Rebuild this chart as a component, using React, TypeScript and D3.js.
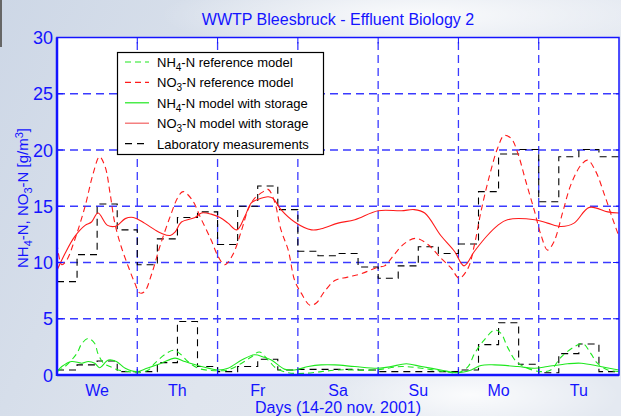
// App
import { useEffect, useRef } from 'react';
import * as d3 from 'd3';

// day labels (centred in each day)
const dayLabels: string[] = ['We', 'Th', 'Fr', 'Sa', 'Su', 'Mo', 'Tu'];
const yTicks: number[] = [0, 5, 10, 15, 20, 25, 30];

// NO3-N model with storage (red solid)
const no3StoreDays: number[] = [0, 0.1, 0.22, 0.35, 0.43, 0.51, 0.63, 0.74, 0.85, 0.95, 1.09, 1.22, 1.3, 1.41, 1.47, 1.55, 1.72, 1.8, 1.92, 2.03, 2.13, 2.24, 2.34, 2.42, 2.5, 2.63, 2.69, 2.79, 2.96, 3.17, 3.29, 3.5, 3.71, 4.0, 4.29, 4.45, 4.58, 4.78, 4.95, 5.07, 5.2, 5.36, 5.49, 5.61, 5.95, 6.11, 6.28, 6.44, 6.63, 6.86, 7.0];
const no3StoreVals: number[] = [9.3, 10.8, 12.3, 13.3, 13.6, 14.4, 13.3, 13.25, 13.9, 14.0, 13.5, 12.9, 12.6, 12.4, 12.7, 13.6, 14.0, 14.4, 14.3, 14.0, 13.5, 12.9, 14.1, 15.3, 15.6, 15.85, 15.7, 14.7, 13.6, 12.9, 13.0, 13.5, 13.8, 14.6, 14.6, 14.7, 14.4, 12.4, 11.0, 9.7, 11.0, 12.4, 13.3, 13.8, 13.8, 13.5, 13.2, 13.5, 14.9, 14.5, 14.4];

// NO3-N reference model (red dashed)
const no3RefDays: number[] = [0, 0.06, 0.12, 0.22, 0.35, 0.45, 0.53, 0.6, 0.66, 0.72, 0.8, 0.89, 0.97, 1.03, 1.09, 1.18, 1.28, 1.41, 1.51, 1.57, 1.68, 1.8, 1.92, 2.01, 2.09, 2.19, 2.3, 2.38, 2.46, 2.57, 2.63, 2.71, 2.79, 2.88, 2.96, 3.04, 3.15, 3.23, 3.33, 3.46, 3.62, 3.79, 4.0, 4.08, 4.2, 4.33, 4.47, 4.62, 4.78, 4.91, 5.01, 5.12, 5.2, 5.28, 5.39, 5.49, 5.57, 5.66, 5.74, 5.84, 5.95, 6.03, 6.11, 6.19, 6.3, 6.4, 6.53, 6.61, 6.71, 6.82, 6.92, 7.0];
const no3RefVals: number[] = [11.7, 9.8, 10.2, 12.0, 15.0, 17.9, 19.4, 18.5, 16.2, 13.5, 11.4, 9.6, 8.15, 7.3, 7.4, 9.0, 11.4, 14.1, 15.85, 16.3, 15.6, 13.8, 12.0, 10.5, 9.8, 10.7, 12.9, 14.7, 15.7, 16.3, 16.5, 15.4, 12.9, 11.1, 8.4, 7.3, 6.2, 6.4, 7.4, 8.4, 8.7, 9.0, 9.6, 9.7, 10.7, 11.7, 12.15, 11.6, 10.4, 9.5, 8.6, 9.5, 11.6, 14.5, 17.8, 20.2, 21.3, 21.0, 19.7, 17.2, 14.5, 12.4, 11.1, 11.85, 14.5, 16.9, 18.7, 19.1, 18.1, 16.0, 13.9, 12.3];

// NH4-N reference model (green dashed)
const nh4RefDays: number[] = [0, 0.1, 0.245, 0.31, 0.39, 0.47, 0.51, 0.58, 0.66, 0.76, 0.89, 1.01, 1.14, 1.22, 1.34, 1.45, 1.53, 1.63, 1.76, 1.92, 2.13, 2.3, 2.42, 2.52, 2.63, 2.73, 2.88, 3.08, 3.29, 3.5, 3.96, 4.29, 4.54, 4.83, 4.99, 5.12, 5.2, 5.32, 5.45, 5.53, 5.61, 5.72, 5.86, 6.03, 6.15, 6.28, 6.44, 6.55, 6.65, 6.73, 6.86, 7.0];
const nh4RefVals: number[] = [0.3, 0.75, 1.9, 2.8, 3.25, 2.8, 1.9, 1.05, 0.75, 0.45, 0.3, 0.2, 0.45, 1.05, 1.8, 2.2, 1.9, 1.2, 0.6, 0.4, 0.45, 1.05, 1.6, 2.05, 1.33, 0.6, 0.2, 0.15, 0.3, 0.45, 0.45, 0.75, 0.6, 0.3, 0.2, 0.75, 1.9, 3.1, 4.0, 3.7, 2.5, 1.2, 0.6, 0.3, 0.45, 1.6, 2.5, 2.8, 1.9, 1.05, 0.45, 0.3];

// NH4-N model with storage (green solid)
const nh4StoreDays: number[] = [0, 0.06, 0.18, 0.31, 0.39, 0.47, 0.53, 0.64, 0.74, 0.85, 0.99, 1.12, 1.3, 1.47, 1.59, 1.8, 2.01, 2.13, 2.3, 2.46, 2.57, 2.67, 2.84, 2.96, 3.13, 3.29, 3.46, 3.71, 4.0, 4.16, 4.35, 4.54, 4.78, 4.99, 5.16, 5.28, 5.45, 5.74, 5.95, 6.11, 6.36, 6.53, 6.77, 7.0];
const nh4StoreVals: number[] = [0.3, 0.75, 1.2, 1.05, 1.2, 1.05, 0.65, 1.33, 1.2, 0.6, 0.3, 0.6, 1.05, 1.5, 1.2, 0.75, 0.45, 0.6, 1.33, 1.8, 1.6, 1.33, 0.5, 0.45, 0.75, 0.9, 0.9, 0.75, 0.6, 0.75, 1.0, 0.75, 0.45, 0.2, 0.45, 0.85, 0.9, 0.75, 0.6, 0.75, 1.0, 1.05, 0.75, 0.45];

// Laboratory measurements, one sample every 6 hours
const labNO3: number[] = [8.3, 10.7, 15.2, 12.9, 9.8, 12.1, 14.0, 14.5, 11.6, 15.0, 16.8, 14.7, 11.0, 10.6, 10.8, 9.6, 8.6, 9.7, 11.4, 10.8, 11.65, 16.3, 19.65, 20.05, 15.4, 19.4, 20.05, 19.4];
const labNH4: number[] = [0.45, 0.9, 1.25, 0.3, 0.3, 1.1, 4.75, 0.75, 0.3, 0.75, 1.4, 0.45, 0.5, 0.5, 0.5, 0.45, 0.3, 0.3, 0.3, 0.3, 0.45, 2.7, 4.65, 0.95, 0.2, 1.9, 2.75, 0.3];

const BLUE = '#1414ff';
const RED = '#ff1a1a';
const GREEN = '#1ee81e';

function Chart() {
	const ref = useRef<SVGSVGElement | null>(null);
	const width = 621;
	const height = 416;
	const margin = { top: 37.5, right: 2, bottom: 41, left: 57 };

	useEffect(() => {
		const svg = d3.select(ref.current);
		svg.selectAll('*').remove();

		const x = d3.scaleLinear().domain([0, 7]).range([margin.left, width - margin.right]);
		const y = d3.scaleLinear().domain([0, 30]).range([height - margin.bottom, margin.top]);

		// background
		const defs = svg.append('defs');
		const lg = defs.append('linearGradient').attr('id', 'bg').attr('x1', 0).attr('x2', 1).attr('y1', 0).attr('y2', 0.3);
		lg.append('stop').attr('offset', '0%').attr('stop-color', '#cdd7e6');
		lg.append('stop').attr('offset', '55%').attr('stop-color', '#dfe5ee');
		lg.append('stop').attr('offset', '100%').attr('stop-color', '#e4e9f1');
		const rg = defs.append('radialGradient').attr('id', 'glow');
		rg.append('stop').attr('offset', '0%').attr('stop-color', '#ffffff').attr('stop-opacity', 0.85);
		rg.append('stop').attr('offset', '100%').attr('stop-color', '#ffffff').attr('stop-opacity', 0);

		svg.append('rect').attr('width', width).attr('height', height).attr('fill', 'url(#bg)');
		svg.append('ellipse').attr('cx', 420).attr('cy', 15).attr('rx', 260).attr('ry', 40).attr('fill', 'url(#glow)');
		svg.append('ellipse').attr('cx', 470).attr('cy', 395).attr('rx', 150).attr('ry', 40).attr('fill', 'url(#glow)');
		svg.append('line').attr('x1', 1).attr('x2', 1).attr('y1', 0).attr('y2', 47).attr('stroke', '#666').attr('stroke-width', 2);

		// plot area
		svg.append('rect')
			.attr('x', x(0)).attr('y', y(30))
			.attr('width', x(7) - x(0)).attr('height', y(0) - y(30))
			.attr('fill', '#ffffff');

		// grid
		const grid = svg.append('g').attr('stroke', '#3a3aff').attr('stroke-width', 1.3).attr('stroke-dasharray', '8,5');
		grid.selectAll('line.h').data(yTicks.slice(1, -1)).enter().append('line')
			.attr('x1', x(0)).attr('x2', x(7)).attr('y1', (d) => y(d)).attr('y2', (d) => y(d));
		grid.selectAll('line.v').data(d3.range(1, 7)).enter().append('line')
			.attr('y1', y(0)).attr('y2', y(30)).attr('x1', (d) => x(d)).attr('x2', (d) => x(d));

		const clip = defs.append('clipPath').attr('id', 'plot');
		clip.append('rect').attr('x', x(0)).attr('y', y(30)).attr('width', x(7) - x(0)).attr('height', y(0) - y(30));
		const plot = svg.append('g').attr('clip-path', 'url(#plot)');

		const smooth = d3.line<[number, number]>()
			.x((d) => x(d[0])).y((d) => y(d[1]))
			.curve(d3.curveCatmullRom.alpha(0.5));
		const step = d3.line<[number, number]>()
			.x((d) => x(d[0])).y((d) => y(d[1]))
			.curve(d3.curveStepAfter);

		const zip = (a: number[], b: number[]) => a.map((v, i) => [v, b[i]] as [number, number]);
		const steps = (vals: number[]) => {
			const pts = vals.map((v, i) => [i * 0.25, v] as [number, number]);
			pts.push([7, vals[vals.length - 1]]);
			return pts;
		};

		const series = [
			{ pts: steps(labNO3), gen: step, color: '#000', dash: '7,5' },
			{ pts: steps(labNH4), gen: step, color: '#000', dash: '7,5' },
			{ pts: zip(no3RefDays, no3RefVals), gen: smooth, color: RED, dash: '6,4' },
			{ pts: zip(nh4RefDays, nh4RefVals), gen: smooth, color: GREEN, dash: '6,4' },
			{ pts: zip(nh4StoreDays, nh4StoreVals), gen: smooth, color: GREEN, dash: null },
			{ pts: zip(no3StoreDays, no3StoreVals), gen: smooth, color: RED, dash: null }
		];
		series.forEach((s) => {
			plot.append('path')
				.attr('d', s.gen(s.pts))
				.attr('fill', 'none')
				.attr('stroke', s.color)
				.attr('stroke-width', 1.1)
				.attr('stroke-dasharray', s.dash);
		});

		// frame and ticks
		const frame = svg.append('g').attr('stroke', BLUE);
		frame.append('rect')
			.attr('x', x(0)).attr('y', y(30))
			.attr('width', x(7) - x(0)).attr('height', y(0) - y(30))
			.attr('fill', 'none').attr('stroke-width', 1.5);
		frame.append('line').attr('x1', x(0)).attr('x2', x(0)).attr('y1', y(30)).attr('y2', y(0) + 1).attr('stroke-width', 2.5);
		frame.append('line').attr('x1', x(0)).attr('x2', x(7)).attr('y1', y(0)).attr('y2', y(0)).attr('stroke-width', 2.5);
		yTicks.forEach((t) => {
			frame.append('line').attr('x1', x(0)).attr('x2', x(0) + 6).attr('y1', y(t)).attr('y2', y(t));
			frame.append('line').attr('x1', x(7)).attr('x2', x(7) - 6).attr('y1', y(t)).attr('y2', y(t));
		});
		d3.range(1, 7).forEach((t) => {
			frame.append('line').attr('x1', x(t)).attr('x2', x(t)).attr('y1', y(30)).attr('y2', y(30) + 6);
			frame.append('line').attr('x1', x(t)).attr('x2', x(t)).attr('y1', y(0)).attr('y2', y(0) - 6);
		});

		const font = 'Arial, "Liberation Sans", sans-serif';

		// y tick labels
		svg.append('g').selectAll('text').data(yTicks).enter().append('text')
			.attr('x', x(0) - 4).attr('y', (d) => y(d) + 6.5)
			.attr('text-anchor', 'end')
			.style('font-family', font).style('font-size', '18px').attr('fill', BLUE)
			.text((d) => d);

		// day labels
		svg.append('g').selectAll('text').data(dayLabels).enter().append('text')
			.attr('x', (_d, i) => x(i + 0.5)).attr('y', y(0) + 21)
			.attr('text-anchor', 'middle')
			.style('font-family', font).style('font-size', '16px').attr('fill', BLUE)
			.text((d) => d);

		// title and axis labels
		svg.append('text')
			.attr('x', (x(0) + x(7)) / 2).attr('y', 25)
			.attr('text-anchor', 'middle')
			.style('font-family', font).style('font-size', '16px').attr('fill', BLUE)
			.text('WWTP Bleesbruck - Effluent Biology 2');
		svg.append('text')
			.attr('x', (x(0) + x(7)) / 2).attr('y', 413)
			.attr('text-anchor', 'middle')
			.style('font-family', font).style('font-size', '16px').attr('fill', BLUE)
			.text('Days (14-20 nov. 2001)');

		const yl = svg.append('text')
			.attr('transform', 'translate(28,198) rotate(-90)')
			.attr('text-anchor', 'middle')
			.style('font-family', font).style('font-size', '15px').attr('fill', BLUE);
		yl.append('tspan').text('NH');
		yl.append('tspan').attr('dy', 4).style('font-size', '11px').text('4');
		yl.append('tspan').attr('dy', -4).text('-N, NO');
		yl.append('tspan').attr('dy', 4).style('font-size', '11px').text('3');
		yl.append('tspan').attr('dy', -4).text('-N [g/m');
		yl.append('tspan').attr('dy', -5).style('font-size', '11px').text('3');
		yl.append('tspan').attr('dy', 5).text(']');

		// legend
		const legend = svg.append('g');
		legend.append('rect')
			.attr('x', 117.5).attr('y', 52.5).attr('width', 206).attr('height', 102)
			.attr('fill', '#fff').attr('stroke', '#000').attr('stroke-width', 1.2);
		const items = [
			{ a: 'NH', sub: '4', b: '-N reference model', color: GREEN, dash: '6,4' },
			{ a: 'NO', sub: '3', b: '-N reference model', color: RED, dash: '6,4' },
			{ a: 'NH', sub: '4', b: '-N model with storage', color: GREEN, dash: null },
			{ a: 'NO', sub: '3', b: '-N model with storage', color: '#f26060', dash: null },
			{ a: 'Laboratory measurements', sub: '', b: '', color: '#000', dash: '7,5' }
		];
		items.forEach((it, i) => {
			const cy = 62 + i * 20.4;
			legend.append('line')
				.attr('x1', 125).attr('x2', 149).attr('y1', cy).attr('y2', cy)
				.attr('stroke', it.color).attr('stroke-width', 1.2).attr('stroke-dasharray', it.dash);
			const t = legend.append('text')
				.attr('x', 157).attr('y', cy + 5)
				.style('font-family', font).style('font-size', '13px').attr('fill', '#000');
			t.append('tspan').text(it.a);
			if (it.sub) {
				t.append('tspan').attr('dy', 4).style('font-size', '10px').text(it.sub);
				t.append('tspan').attr('dy', -4).text(it.b);
			}
		});
	}, []);

	return <svg ref={ref} width={width} height={height} style={{ position: 'absolute', left: 0, top: 0, display: 'block' }} />;
}

export default function App() {
	return <Chart />;
}
